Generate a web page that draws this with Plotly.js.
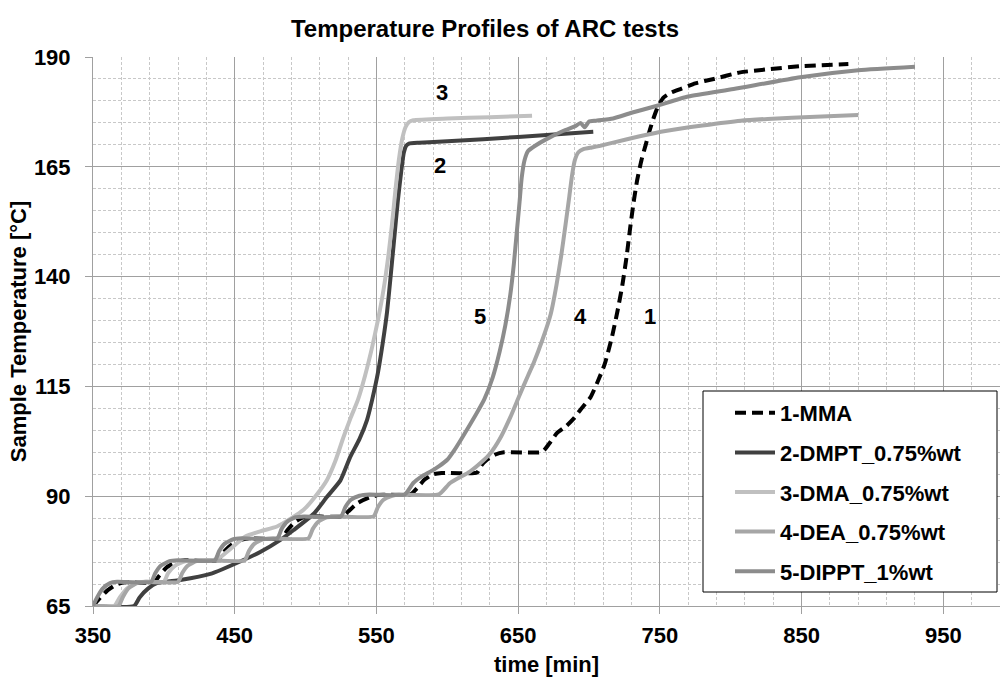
<!DOCTYPE html>
<html>
<head>
<meta charset="utf-8">
<script src="https://cdn.plot.ly/plotly-3.0.1.min.js"></script>
<style>html,body{margin:0;padding:0;background:#fff}#chart{width:1000px;height:677px}</style>
</head>
<body>
<div id="chart"></div>
<script>
// ---- data ----
const seriesNames = ["1-MMA", "2-DMPT_0.75%wt", "3-DMA_0.75%wt", "4-DEA_0.75%wt", "5-DIPPT_1%wt"];

const time1 = [350,354,360,366,372,393,397,402,409,415,438,442,448,455,460,483,487,492,498,504,526,530,537,545,552,574,578.6,584,590,596,621,624,628,634,640,667,672,677.5,684,689,694,701,706,711,716,720,723.5,726.5,729,731.5,734,737,740,743,746,749,752.7,758,764.5,775,788,806.8,826,849,883];
const temp1 = [65,66.5,68.5,69.8,70.4,70.4,72,73.8,75,75.4,75.4,77.2,79,80.1,80.4,80.4,82.2,84,85.1,85.4,85.4,86.5,88.5,89.7,90.3,90.4,91.8,93.8,95,95.3,95.4,97,98.3,99.5,100,100.1,102,104.4,106,107.6,109.7,112.5,116,120,126,132,138,144.5,151,157,162,166.5,170,173.5,176.5,179,180.8,181.9,182.7,184,185,186.5,187.2,187.9,188.4];

const time2 = [350,379,383,389,395,411.6,432.8,455,468,482,491.6,505.8,515,524.6,531.6,538,543.4,547,551,554.5,557.5,560,562.5,565,567.5,569.3,571,573,580,600,650,703];
const temp2 = [65,65,67,69,70.2,70.9,72.3,75.3,77.3,80,82.3,86,89.8,93.6,99,103,107.4,112,118,125,132,140,148.5,157,164,168.2,169.8,170.3,170.5,170.8,171.8,173];

const time3 = [350,365,369,374,380,387,400,403,408,415,425,437.5,447,457.5,468,479.8,490,498.6,507,515.1,521,526.9,532,537,542,547,551,555,558.5,561,563.5,566,568.3,570.5,573,576,600,630,659.8];
const temp3 = [65,65,67,69,70.2,70.5,70.5,72.5,74.2,75.2,75.4,75.6,78,80.8,82,83.1,85,86.9,90,93.7,98,103.6,108,112,117.5,124,130,137,145,152,160,167,171.5,174,175.2,175.6,176,176.3,176.6];

const time4 = [350,368,371,375,381,388,410,413,417,423,430,457,460,464,470,477,502,505,509,515,522,548,551,555,561,566,594,602,616,625,630,637,644.5,651,657,661,667,673,677,680.5,683.5,686,688,690,692.5,696,702,708,717,735,755,780,807,826,860,890];
const temp4 = [65,65,67,69,70.2,70.5,70.5,72.5,74.2,75.2,75.4,75.4,77.5,79.2,80.2,80.4,80.4,82.5,84.2,85.2,85.4,85.4,87.5,89.2,90.1,90.4,90.4,93,95.6,98,99.6,103,108,113,117.5,120.4,125.5,131.5,138,145,152,158,163,166.5,168.3,169,169.4,169.8,170.5,171.9,173.2,174.4,175.5,175.9,176.4,176.8];

const time5 = [350,353,357,362,367,391,394,398,404,410,436,439,443,449,455,480,483,487,493,499,525,528,532,538,545,570,576,582,588,594,600,605,611,620,626,632,637,641,644.5,647,649,651,652.5,654.5,657,662,670,682,690,694,697,700,705,717,730,748,770,802,849,890,930];
const temp5 = [65,67,69,70.2,70.5,70.5,72.5,74.2,75.2,75.4,75.4,77.5,79.2,80.2,80.4,80.4,82.5,84.2,85.2,85.4,85.4,87.5,89.2,90.1,90.4,90.4,93,94.5,95.6,96.8,98.3,100.5,103.6,108.5,112,117,123,129,136,143,150,157,162.5,166.5,168.6,169.8,171.3,173.2,174.2,175,174,175.3,175.5,176,177.3,178.9,181,182.7,185.4,187,187.8];

const curveLabels = ["1", "2", "3", "4", "5"];
const labelTimes = [743, 595, 596, 694, 623];
const labelTemps = [131, 165.2, 181.9, 131, 131];

const xTickVals = [350, 450, 550, 650, 750, 850, 950];
const yTickVals = [65, 90, 115, 140, 165, 190];

// ---- styling ----
const FONT = "'Liberation Sans', Arial, sans-serif";
const colors = ["#000000", "#404040", "#c0c0c0", "#a6a6a6", "#8c8c8c"];
const times = [time1, time2, time3, time4, time5];
const temps = [temp1, temp2, temp3, temp4, temp5];

const traces = seriesNames.map((n, i) => ({
  type: "scatter",
  mode: "lines",
  name: n,
  x: times[i],
  y: temps[i],
  legendgroup: "g" + i,
  line: {color: colors[i], width: 4, shape: "spline", smoothing: 0.5, dash: i === 0 ? "11px,6px" : "solid"},
  hoverinfo: "x+y+name"
}));

const annotations = curveLabels.map((t, i) => ({
  x: labelTimes[i], y: labelTemps[i], xref: "x", yref: "y",
  text: "<b>" + t + "</b>", showarrow: false,
  font: {family: FONT, size: 22, color: "#000"}
}));

const L = 93, R = 1000, T = 57, B = 606;
const px2x = p => (p - L) / (R - L);
const px2y = p => (B - p) / (B - T);

const layout = {
  width: 1000, height: 677,
  margin: {l: L, r: 1000 - R, t: T, b: 677 - B},
  paper_bgcolor: "#ffffff",
  plot_bgcolor: "#ffffff",
  font: {family: FONT, size: 22, color: "#000"},
  title: {
    text: "<b>Temperature Profiles of ARC tests</b>",
    font: {family: FONT, size: 24, color: "#000"},
    x: 0.485, xref: "container", xanchor: "center",
    y: 1 - 29 / 677, yref: "container", yanchor: "middle"
  },
  xaxis: {
    range: [350, 990],
    tickmode: "array", tickvals: xTickVals,
    ticks: "outside", ticklen: 7, tickcolor: "#a0a0a0",
    tickfont: {family: FONT, size: 22, color: "#000", weight: "bold"},
    ticklabelstandoff: 3,
    showgrid: true, gridcolor: "#a0a0a0", gridwidth: 1,
    showline: true, linecolor: "#a0a0a0", linewidth: 1,
    zeroline: false,
    minor: {tick0: 350, dtick: 20, showgrid: true, gridcolor: "#c8c8c8", griddash: "3px,2px", gridwidth: 1, ticks: ""},
    title: {text: "<b>time [min]</b>", font: {family: FONT, size: 22, color: "#000"}, standoff: 12}
  },
  yaxis: {
    range: [65, 190],
    tickmode: "array", tickvals: yTickVals,
    ticks: "outside", ticklen: 7, tickcolor: "#a0a0a0",
    tickfont: {family: FONT, size: 22, color: "#000", weight: "bold"},
    ticklabelstandoff: 10,
    showgrid: true, gridcolor: "#a0a0a0", gridwidth: 1,
    showline: true, linecolor: "#a0a0a0", linewidth: 1,
    zeroline: false,
    minor: {tick0: 65, dtick: 5, showgrid: true, gridcolor: "#c8c8c8", griddash: "3px,2px", gridwidth: 1, ticks: ""},
    title: {text: "<b>Sample Temperature [°C]</b>", font: {family: FONT, size: 22, color: "#000"}, standoff: 1}
  },
  showlegend: true,
  legend: {
    x: px2x(730), y: px2y(392), xanchor: "left", yanchor: "top",
    xref: "paper", yref: "paper",
    bgcolor: "rgba(0,0,0,0)", borderwidth: 0,
    font: {family: FONT, size: 22, color: "#000", weight: "bold"},
    traceorder: "grouped", tracegroupgap: 8,
    itemwidth: 40
  },
  shapes: [{
    type: "rect", xref: "paper", yref: "paper", layer: "above",
    x0: px2x(703), x1: px2x(997), y0: px2y(592), y1: px2y(391),
    line: {color: "#000", width: 1}, fillcolor: "#ffffff"
  }],
  annotations: annotations
};

Plotly.newPlot("chart", traces, layout, {displayModeBar: false, staticPlot: true});
</script>
</body>
</html>
